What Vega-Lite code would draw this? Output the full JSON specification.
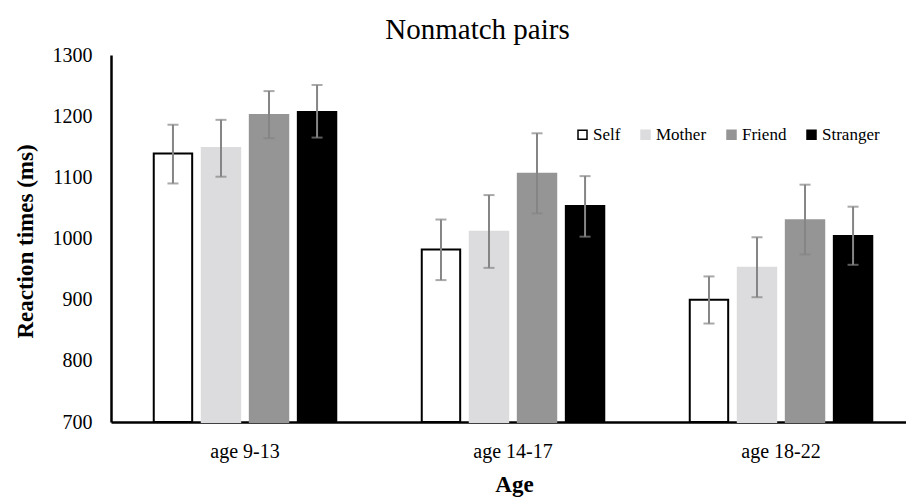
{
  "$schema": "https://vega.github.io/schema/vega-lite/v6.json",
  "width": 795,
  "height": 367,
  "autosize": {"type": "none"},
  "padding": {"left": 111, "top": 55, "right": 0, "bottom": 75},
  "background": "white",
  "title": {
    "text": "Nonmatch pairs",
    "font": "Liberation Serif",
    "fontSize": 29,
    "fontWeight": "normal",
    "color": "#000000",
    "anchor": "middle",
    "frame": "group",
    "dx": -31,
    "baseline": "alphabetic",
    "offset": -23
  },
  "data": {
    "values": [
      {"age": "age 9-13", "cond": "Self", "rt": 1139, "lo": 1090, "hi": 1186},
      {"age": "age 9-13", "cond": "Mother", "rt": 1148, "lo": 1101, "hi": 1194},
      {"age": "age 9-13", "cond": "Friend", "rt": 1202, "lo": 1164, "hi": 1241},
      {"age": "age 9-13", "cond": "Stranger", "rt": 1207, "lo": 1165, "hi": 1251},
      {"age": "age 14-17", "cond": "Self", "rt": 982, "lo": 932, "hi": 1031},
      {"age": "age 14-17", "cond": "Mother", "rt": 1011, "lo": 952, "hi": 1071},
      {"age": "age 14-17", "cond": "Friend", "rt": 1106, "lo": 1041, "hi": 1172},
      {"age": "age 14-17", "cond": "Stranger", "rt": 1053, "lo": 1003, "hi": 1102},
      {"age": "age 18-22", "cond": "Self", "rt": 900, "lo": 861, "hi": 938},
      {"age": "age 18-22", "cond": "Mother", "rt": 952, "lo": 904, "hi": 1002},
      {"age": "age 18-22", "cond": "Friend", "rt": 1030, "lo": 974, "hi": 1088},
      {"age": "age 18-22", "cond": "Stranger", "rt": 1004, "lo": 957, "hi": 1052}
    ]
  },
  "encoding": {
    "x": {
      "field": "age",
      "type": "nominal",
      "sort": ["age 9-13", "age 14-17", "age 18-22"],
      "scale": {"paddingInner": 0.319, "paddingOuter": 0.1427, "align": 0.559},
      "axis": {
        "title": "Age",
        "titleFont": "Liberation Serif",
        "titleFontSize": 23,
        "titleFontWeight": "bold",
        "titleColor": "#000000",
        "titleBaseline": "alphabetic",
        "titleX": 403,
        "titleY": 69,
        "labelFont": "Liberation Serif",
        "labelFontSize": 20,
        "labelColor": "#000000",
        "labelAngle": 0,
        "labelPadding": 19,
        "ticks": false,
        "tickSize": 0,
        "domainColor": "#000000",
        "domainWidth": 2.5
      }
    },
    "xOffset": {
      "field": "cond",
      "type": "nominal",
      "sort": ["Self", "Mother", "Friend", "Stranger"],
      "scale": {"paddingInner": 0.2, "paddingOuter": 0}
    }
  },
  "layer": [
    {
      "mark": {"type": "bar", "strokeWidth": 2},
      "encoding": {
        "y": {
          "field": "rt",
          "type": "quantitative",
          "scale": {"domain": [700, 1300], "zero": false, "nice": false},
          "axis": {
            "title": "Reaction times (ms)",
            "titleFont": "Liberation Serif",
            "titleFontSize": 23,
            "titleFontWeight": "bold",
            "titleColor": "#000000",
            "titleBaseline": "alphabetic",
            "titleX": -79,
            "titleY": 186,
            "values": [700, 800, 900, 1000, 1100, 1200, 1300],
            "format": "d",
            "labelFont": "Liberation Serif",
            "labelFontSize": 20,
            "labelColor": "#000000",
            "labelPadding": 19,
            "ticks": false,
            "tickSize": 0,
            "grid": false,
            "domainColor": "#000000",
            "domainWidth": 2.5
          }
        },
        "y2": {"datum": 700},
        "fill": {
          "field": "cond",
          "type": "nominal",
          "sort": ["Self", "Mother", "Friend", "Stranger"],
          "scale": {"domain": ["Self", "Mother", "Friend", "Stranger"], "range": ["#ffffff", "#dcdcde", "#959595", "#000000"]},
          "legend": {
            "title": null,
            "orient": "none",
            "legendX": 463,
            "legendY": 71,
            "direction": "horizontal",
            "symbolType": "square",
            "symbolSize": 81,
            "symbolStrokeWidth": 1.5,
            "labelFont": "Liberation Serif",
            "labelFontSize": 17,
            "labelColor": "#000000",
            "labelOffset": 2,
            "columnPadding": 16
          }
        },
        "stroke": {
          "field": "cond",
          "type": "nominal",
          "sort": ["Self", "Mother", "Friend", "Stranger"],
          "scale": {"domain": ["Self", "Mother", "Friend", "Stranger"], "range": ["#000000", "#dcdcde", "#959595", "#000000"]},
          "legend": null
        }
      }
    },
    {
      "mark": {"type": "rule", "color": "#858585", "strokeWidth": 2},
      "encoding": {
        "y": {"field": "lo", "type": "quantitative"},
        "y2": {"field": "hi"}
      }
    },
    {
      "mark": {"type": "tick", "color": "#858585", "thickness": 2, "size": 11},
      "encoding": {
        "y": {"field": "lo", "type": "quantitative"}
      }
    },
    {
      "mark": {"type": "tick", "color": "#858585", "thickness": 2, "size": 11},
      "encoding": {
        "y": {"field": "hi", "type": "quantitative"}
      }
    }
  ],
  "config": {
    "view": {"stroke": null},
    "font": "Liberation Serif"
  }
}
